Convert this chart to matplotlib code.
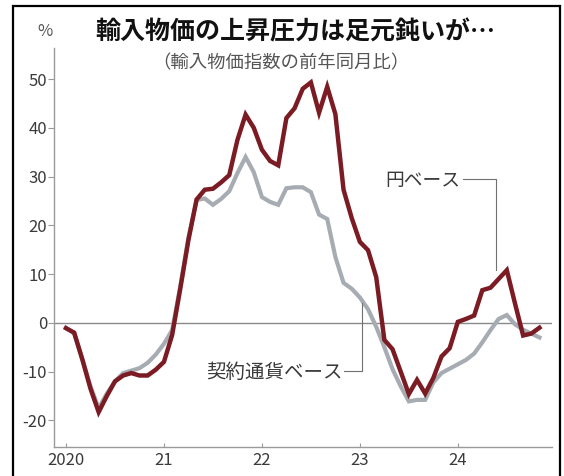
import matplotlib.pyplot as plt
from matplotlib import font_manager
from matplotlib.patches import Rectangle

# 前年同月比 (%), 2020年1月〜2024年11月
yen_base = [-1.1, -2.0, -7.5, -13.5, -18.3, -15.0, -12.0, -10.8, -10.3, -10.8, -10.8, -9.6,
            -8.0, -2.5, 7.0, 17.0, 25.3, 27.3, 27.5, 28.8, 30.3, 37.5, 42.7, 40.0,
            35.5, 33.2, 32.3, 42.0, 44.0, 48.0, 49.3, 43.1, 48.4, 42.8, 27.3, 21.5,
            16.6, 14.9, 9.4, -3.5, -5.4, -10.0, -14.6, -11.7, -14.5, -11.3, -6.9, -5.2,
            0.2, 0.8, 1.5, 6.7, 7.2, 9.0, 10.8, 4.0, -2.6, -2.2, -1.0]
contract_base = [-1.0, -2.2, -7.5, -13.0, -17.5, -14.5, -12.0, -10.3, -9.8, -9.3, -8.2, -6.5,
                 -4.3, -1.5, 7.5, 17.5, 25.2, 25.5, 24.2, 25.4, 27.0, 30.7, 34.0, 30.9,
                 25.8, 24.8, 24.2, 27.6, 27.8, 27.8, 26.8, 22.2, 21.3, 13.5, 8.2, 7.0,
                 5.2, 2.8, -0.8, -5.0, -9.5, -13.0, -16.1, -15.8, -15.8, -12.2, -10.3, -9.4,
                 -8.5, -7.6, -6.3, -4.0, -1.5, 0.8, 1.6, -0.3, -1.4, -2.2, -3.0]
months = [2020 + i / 12 for i in range(len(yen_base))]
year_ticks = [2020, 2021, 2022, 2023, 2024]
year_labels = ['2020', '21', '22', '23', '24']
y_ticks = [-20, -10, 0, 10, 20, 30, 40, 50]

JP = ['Noto Sans CJK JP', 'DejaVu Sans']
names = {f.name for f in font_manager.fontManager.ttflist}
NUM = ['Liberation Sans Narrow'] + JP if 'Liberation Sans Narrow' in names else JP
num_size = 13.5 if 'Liberation Sans Narrow' in names else 12

RED = '#7b1c24'
GRAY = '#a6acb2'
AXIS = '#9a9a9a'
TEXT = '#3a3a3a'

fig = plt.figure(figsize=(5.64, 4.76), dpi=100)
ax = fig.add_axes([54 / 564, 29.3 / 476, 497.7 / 564, 398.4 / 476])

ax.plot(months, contract_base, color=GRAY, lw=3.0, solid_joinstyle='miter', zorder=3)
ax.plot(months, yen_base, color=RED, lw=3.2, solid_joinstyle='miter', zorder=4)
ax.axhline(0, color='#8a8a8a', lw=1.0, zorder=2)

ax.set_xlim(2020 - 1.47 / 12, 2020 + 59.5 / 12)
ax.set_ylim(-25.4, 56.3)

for side in ('top', 'right'):
    ax.spines[side].set_visible(False)
for side in ('left', 'bottom'):
    ax.spines[side].set_color(AXIS)
    ax.spines[side].set_linewidth(1.0)

ax.set_xticks(year_ticks)
ax.set_xticklabels(year_labels, family=NUM, fontsize=num_size, color=TEXT)
ax.set_yticks(y_ticks)
ax.set_yticklabels([str(v) for v in y_ticks], family=NUM, fontsize=num_size, color=TEXT)
ax.tick_params(axis='x', direction='in', length=3, color=AXIS, pad=4)
ax.tick_params(axis='y', direction='out', length=4, color=AXIS, pad=1)

# 系列ラベルと引き出し線
lead = dict(color='#707070', lw=0.8, zorder=5)
ax.plot([2024.05, 2024.39, 2024.39], [29.4, 29.4, 10.8], **lead)
ax.text(2024.03, 29.2, '円ベース', family=JP, fontsize=13.5, color=TEXT,
        ha='right', va='center')
ax.plot([2022.84, 2023.02, 2023.02], [-9.9, -9.9, 4.0], **lead)
ax.text(2022.82, -10.1, '契約通貨ベース', family=JP, fontsize=14, color=TEXT,
        ha='right', va='center')

fig.text(295 / 564, 1 - 32 / 476, '輸入物価の上昇圧力は足元鈍いが…', family=JP,
         fontsize=18, fontweight='bold', color='#111111', ha='center', va='center')
fig.text(281 / 564, 1 - 63 / 476, '（輸入物価指数の前年同月比）', family=JP,
         fontsize=13.2, color='#555555', ha='center', va='center')
fig.text(45 / 564, 1 - 32 / 476, '%', family=NUM, fontsize=12, color='#555555',
         ha='center', va='center')

# 外枠（下辺は切れている）
fig.add_artist(Rectangle((12.7 / 564, -0.05), (560 - 12.7) / 564, 1.05 - 6 / 476,
                         transform=fig.transFigure, fill=False, edgecolor='black',
                         lw=1.6, clip_on=False))

fig.savefig('out.png', dpi=100, facecolor='white')
plt.close(fig)
